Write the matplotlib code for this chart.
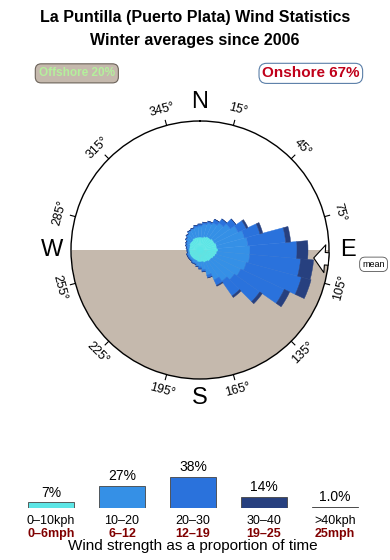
import numpy as np
import matplotlib
matplotlib.use("Agg")
import matplotlib.pyplot as plt

plt.rcParams['font.family'] = ['Liberation Sans', 'DejaVu Sans']

# Rose data: 10 degree sectors (direction wind comes from)
directions = np.arange(0, 360, 10)
cyan_part = [13, 13, 14, 15, 15, 16, 16, 17, 17, 18, 17, 16, 15, 14, 14, 13, 13, 12,
             12, 12, 11, 11, 11, 11, 11, 11, 11, 11, 11, 11, 12, 12, 12, 13, 13, 13]
light_part = [11, 13, 14, 15, 18, 21, 26, 29, 31, 32, 33, 32, 30, 28, 24, 20, 13, 8,
              5, 4, 3, 3, 2, 2, 2, 2, 2, 2, 2, 3, 3, 5, 7, 8, 9, 10]
mid_part = [2, 2, 2, 4, 5, 7, 9, 16, 38, 47, 51, 57, 48, 31, 18, 6, 3, 2,
            2, 1, 1, 1, 1, 1, 1, 1, 0, 0, 1, 1, 1, 1, 1, 1, 1, 2]
navy_part = [0, 0, 0, 0, 0, 0, 2, 3, 5, 11, 13, 10, 6, 3, 2, 1, 0, 0,
             0, 0, 0, 0, 0, 0, 0, 0, 0, 0, 0, 0, 0, 0, 0, 0, 0, 0]
rose_max = 129
mean_dir = 94

# Legend data
speed_pct = [7, 27, 38, 14, 1.0]
pct_labels = ['7%', '27%', '38%', '14%', '1.0%']
kph_labels = ['0\u201310kph', '10\u201320', '20\u201330', '30\u201340', '>40kph']
mph_labels = ['0\u20136mph', '6\u201312', '12\u201319', '19\u201325', '25mph']
colors = ['#5de6e6', '#3590e6', '#2a72dc', '#27407f', '#111111']

tick_deg = [15, 45, 75, 105, 135, 165, 195, 225, 255, 285, 315, 345]
land_color = '#c5b9ad'

fig = plt.figure(figsize=(3.9, 5.6), dpi=100)

fig.text(0.5, 0.968, 'La Puntilla (Puerto Plata) Wind Statistics', ha='center', va='center',
         fontsize=11.5, fontweight='bold')
fig.text(0.5, 0.928, 'Winter averages since 2006', ha='center', va='center',
         fontsize=11.5, fontweight='bold')

fig.text(0.197, 0.869, 'Offshore 20%', ha='center', va='center', fontsize=8.5, fontweight='bold',
         color='#b4f09c', bbox=dict(boxstyle='round,pad=0.3,rounding_size=0.5', fc=land_color, ec='#6b6259', lw=0.8))
fig.text(0.797, 0.869, 'Onshore 67%', ha='center', va='center', fontsize=11, fontweight='bold',
         color='#c0001a', bbox=dict(boxstyle='round,pad=0.2,rounding_size=0.5', fc='white', ec='#5b7fa8', lw=0.8))

# Rose
ax = fig.add_axes([71 / 390, 181 / 560, 258 / 390, 258 / 560], projection='polar')
ax.set_theta_zero_location('N')
ax.set_theta_direction(-1)
ax.set_ylim(0, rose_max)
ax.grid(False)
ax.set_xticks([])
ax.set_yticks([])
ax.spines['polar'].set_linewidth(1.0)

th = np.linspace(np.pi / 2, 3 * np.pi / 2, 200)
ax.fill_between(th, 0, rose_max, color=land_color, zorder=0, lw=0)

theta = np.deg2rad(directions)
width = np.deg2rad(10)
bottom = np.zeros(len(directions))
for part, c in zip([cyan_part, light_part, mid_part, navy_part], colors[:4]):
    ax.bar(theta, part, width=width, bottom=bottom, color=c, edgecolor=c, lw=0.3, zorder=2)
    bottom = bottom + np.array(part)

for d in tick_deg:
    t = np.deg2rad(d)
    ax.plot([t, t], [rose_max, rose_max * 1.04], color='black', lw=0.8, clip_on=False)
    rot = (-d) % 360
    if 90 < rot <= 270:
        rot -= 180
    elif rot > 270:
        rot -= 360
    ax.text(t, rose_max * 1.125, f'{d}\u00b0', rotation=rot, rotation_mode='anchor',
            ha='center', va='center', fontsize=9, clip_on=False)

for lab, d in zip(['N', 'E', 'S', 'W'], [0, 90, 180, 270]):
    ax.text(np.deg2rad(d), rose_max * 1.15, lab, ha='center', va='center', fontsize=17, clip_on=False)

ax.annotate('', xy=(np.deg2rad(mean_dir), 114), xytext=(np.deg2rad(mean_dir), rose_max),
            arrowprops=dict(arrowstyle='simple,head_length=0.8,head_width=2.0,tail_width=0.9',
                            fc='white', ec='black', lw=0.8, shrinkA=0, shrinkB=0), zorder=5)

fig.text(0.958, 0.528, 'mean', ha='center', va='center', fontsize=6.5,
         bbox=dict(boxstyle='round,pad=0.3,rounding_size=0.6', fc='white', ec='#555555', lw=0.6))

# Speed legend
lax = fig.add_axes([15.5 / 390, 52 / 560, 355 / 390, 48 / 560])
bars = lax.bar(range(5), speed_pct, width=0.65, color=colors, edgecolor='#444444', lw=0.6)
lax.set_xlim(-0.5, 4.5)
lax.set_ylim(0, 58.8)
lax.axis('off')
for i in range(5):
    lax.annotate(pct_labels[i], xy=(i, speed_pct[i]), xytext=(0, 2), textcoords='offset points',
                 ha='center', va='bottom', fontsize=10)
    lax.annotate(kph_labels[i], xy=(i, 0), xytext=(0, -5), textcoords='offset points',
                 ha='center', va='top', fontsize=9)
    lax.annotate(mph_labels[i], xy=(i, 0), xytext=(0, -14.5), textcoords='offset points',
                 ha='center', va='top', fontsize=9, fontweight='bold', color='#800000')

fig.text(0.495, 0.025, 'Wind strength as a proportion of time', ha='center', va='center', fontsize=11)

plt.savefig('out.png', dpi=100)
